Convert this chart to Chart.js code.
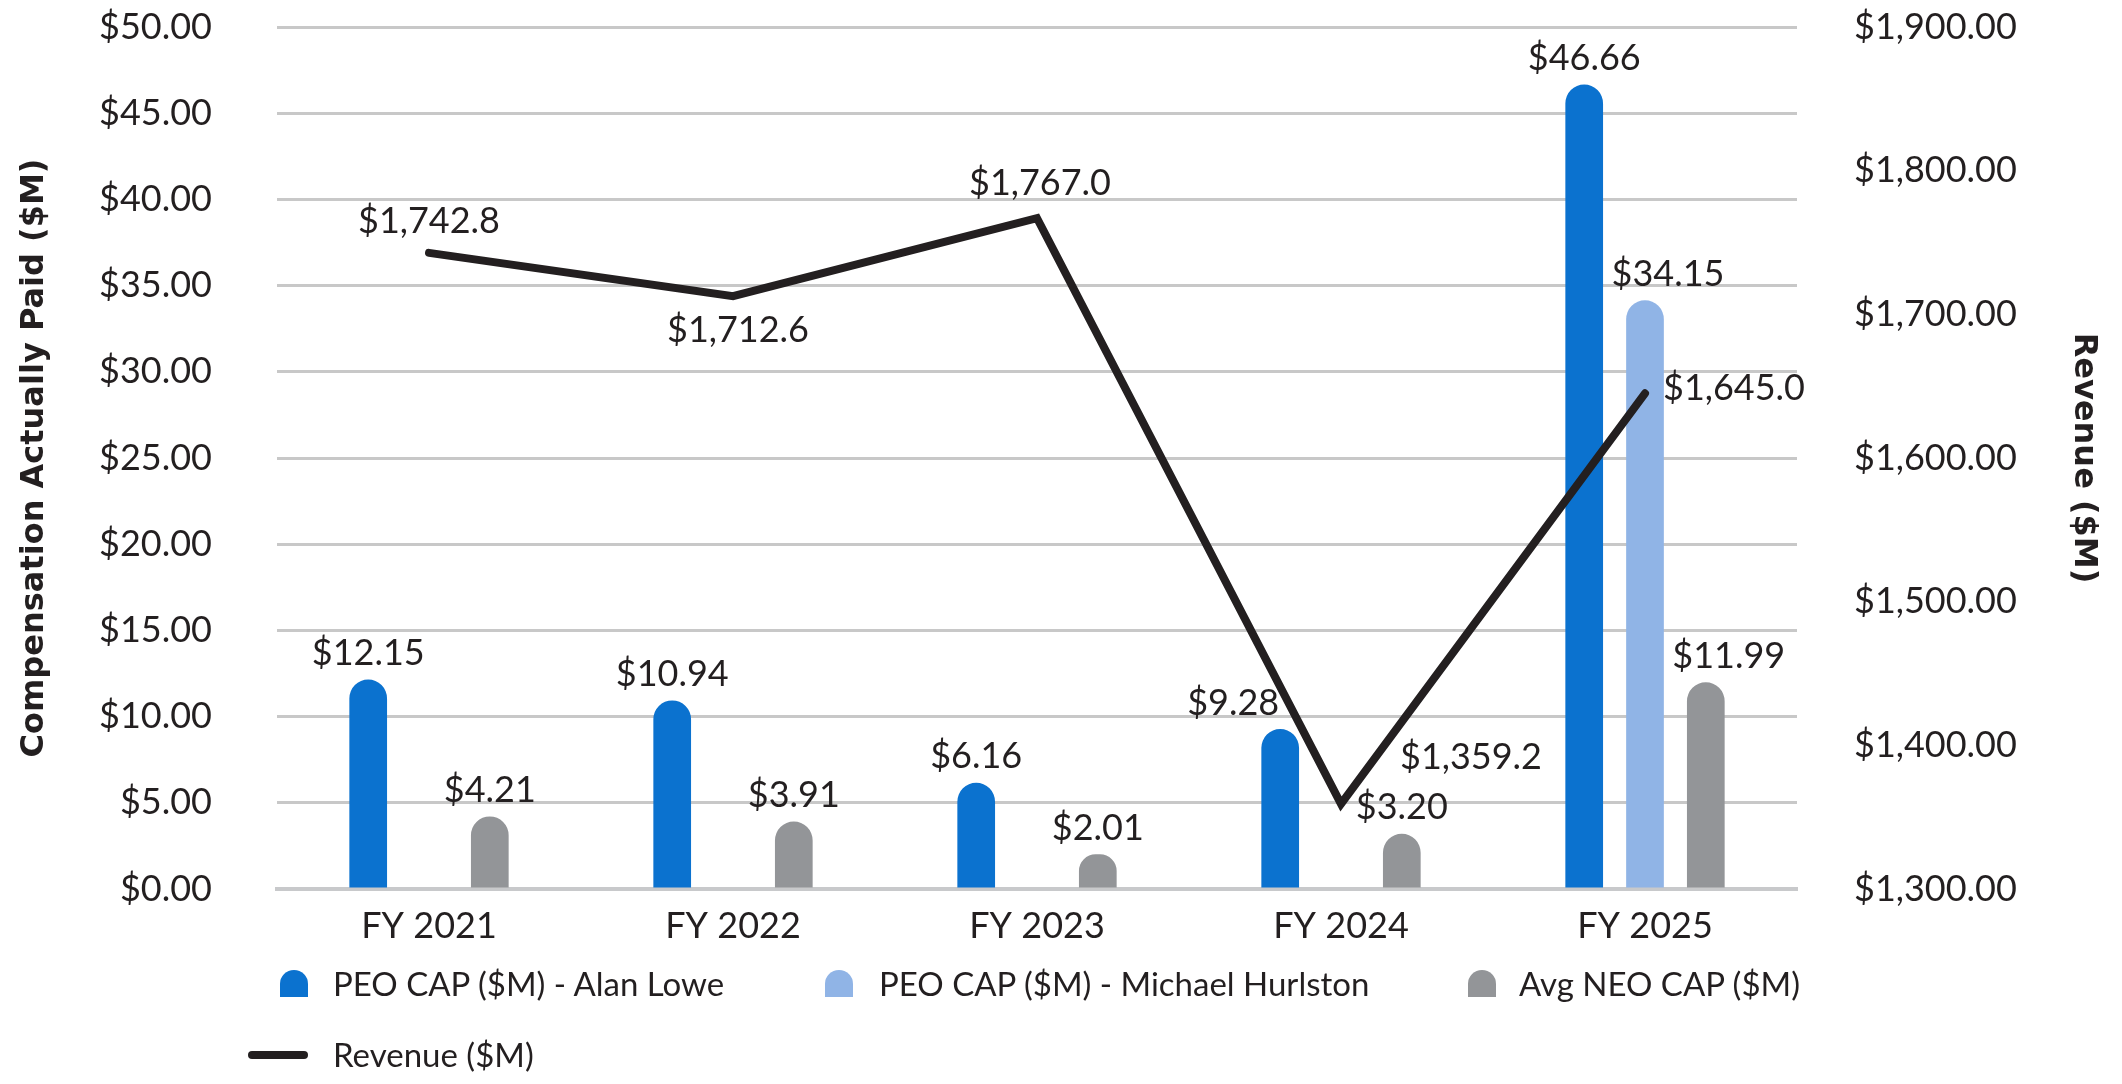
<!DOCTYPE html>
<html>
<head>
<meta charset="utf-8">
<script src="https://cdn.jsdelivr.net/npm/chart.js@4.4.1/dist/chart.umd.min.js"></script>
<style>
  html, body { margin: 0; padding: 0; background: #ffffff; }
  #wrap { position: relative; width: 2122px; height: 1084px; overflow: hidden; }
  #chart { position: absolute; left: 0; top: 0; }
  .lg-item { position: absolute; font-family: Lato, sans-serif; font-size: 33px; color: #231f20; white-space: nowrap; line-height: 1; }
  .lg-mark { position: absolute; }
</style>
</head>
<body>
<div id="wrap">
  <canvas id="chart" width="2122" height="1084"></canvas>
  <div id="legend"></div>
</div>
<script>
// ---------- data ----------
const categories = ['FY 2021', 'FY 2022', 'FY 2023', 'FY 2024', 'FY 2025'];
const peoAlanLowe = [12.15, 10.94, 6.16, 9.28, 46.66];
const peoMichaelHurlston = [null, null, null, null, 34.15];
const avgNeoCap = [4.21, 3.91, 2.01, 3.20, 11.99];
const revenue = [1742.8, 1712.6, 1767.0, 1359.2, 1645.0];
const seriesNames = ['PEO CAP ($M) - Alan Lowe', 'PEO CAP ($M) - Michael Hurlston', 'Avg NEO CAP ($M)', 'Revenue ($M)'];
const leftAxisTitle = 'Compensation Actually Paid ($M)';
const rightAxisTitle = 'Revenue ($M)';

// ---------- styles ----------
const COLORS = { alan: '#0b72cf', michael: '#90b4e6', neo: '#939598', revenue: '#231f20', text: '#231f20', grid: '#c8c8c8', axis: '#c8c9cb' };
const TICK_FONT = 36;
const LABEL_FONT = 36;
const CLEAR = 'rgba(0,0,0,0)';
// label nudges (px) per series index: [dx, dy]
const barLabelNudge = { 0: { 3: [-47, 0] }, 1: { 4: [23, 0] }, 2: { 4: [23, 0] } };
const lineLabelOffset = [[0, -31], [5, 34], [3, -35], [130, -47], [89, -5]];

const money2 = v => '$' + v.toLocaleString('en-US', { minimumFractionDigits: 2, maximumFractionDigits: 2 });
const money1 = v => '$' + v.toLocaleString('en-US', { minimumFractionDigits: 1, maximumFractionDigits: 1 });

const valueLabels = {
  id: 'valueLabels',
  afterDatasetsDraw(chart) {
    const ctx = chart.ctx;
    ctx.save();
    ctx.font = LABEL_FONT + 'px Lato';
    ctx.fillStyle = COLORS.text;
    ctx.textAlign = 'center';
    ctx.textBaseline = 'middle';
    chart.data.datasets.forEach((ds, di) => {
      const meta = chart.getDatasetMeta(di);
      meta.data.forEach((el, i) => {
        const v = ds.data[i];
        if (v === null || v === undefined) return;
        if (ds.type === 'line') {
          const o = lineLabelOffset[i];
          ctx.fillText(money1(v), el.x + o[0], el.y + o[1]);
        } else {
          const n = (barLabelNudge[di] && barLabelNudge[di][i]) || [0, 0];
          ctx.fillText(money2(v), el.x + n[0], el.y - 26 + n[1]);
        }
      });
    });
    ctx.restore();
  }
};

const barRadius = { topLeft: 19, topRight: 19, bottomLeft: 0, bottomRight: 0 };

function build() {
  Chart.defaults.font.family = 'Lato';
  Chart.defaults.color = COLORS.text;
  const chart = new Chart(document.getElementById('chart'), {
    data: {
      labels: categories,
      datasets: [
        { type: 'bar', label: seriesNames[0], data: peoAlanLowe, backgroundColor: COLORS.alan, borderRadius: barRadius, borderSkipped: false, yAxisID: 'y', order: 1 },
        { type: 'bar', label: seriesNames[1], data: peoMichaelHurlston, backgroundColor: COLORS.michael, borderRadius: barRadius, borderSkipped: false, yAxisID: 'y', order: 1 },
        { type: 'bar', label: seriesNames[2], data: avgNeoCap, backgroundColor: COLORS.neo, borderRadius: barRadius, borderSkipped: false, yAxisID: 'y', order: 1 },
        { type: 'line', label: seriesNames[3], data: revenue, borderColor: COLORS.revenue, backgroundColor: COLORS.revenue, borderWidth: 8, pointRadius: 0, borderCapStyle: 'round', borderJoinStyle: 'miter', tension: 0, yAxisID: 'y1', order: 0 }
      ]
    },
    options: {
      responsive: false,
      animation: false,
      devicePixelRatio: 1,
      layout: { padding: { top: 27, bottom: 125, left: 0, right: 0 } },
      datasets: { bar: { categoryPercentage: 0.6, barPercentage: 0.62 } },
      plugins: { legend: { display: false }, tooltip: { enabled: false } },
      scales: {
        x: {
          grid: { display: false, drawTicks: false },
          border: { display: true, color: COLORS.axis, width: 4 },
          ticks: { font: { size: TICK_FONT }, padding: 16, color: COLORS.text },
          afterFit: s => { s.height = 70; }
        },
        y: {
          position: 'left', min: 0, max: 50,
          grid: { color: COLORS.grid, lineWidth: 3, drawTicks: true, tickLength: 65, tickColor: CLEAR },
          border: { display: false },
          ticks: { stepSize: 5, font: { size: TICK_FONT }, padding: 0, color: COLORS.text, callback: v => money2(v) },
          title: { display: true, text: leftAxisTitle, font: { family: 'DejaVu Sans', size: 32, weight: 'bold' }, padding: { top: 15, bottom: 0 }, color: COLORS.text },
          afterFit: s => { s.width = 277; }
        },
        y1: {
          position: 'right', min: 1300, max: 1900,
          grid: { display: true, drawOnChartArea: false, color: CLEAR, drawTicks: true, tickLength: 57, tickColor: CLEAR },
          border: { display: false },
          ticks: { stepSize: 100, font: { size: TICK_FONT }, padding: 0, color: COLORS.text, callback: v => money2(v) },
          title: { display: true, text: rightAxisTitle, font: { family: 'DejaVu Sans', size: 32, weight: 'bold' }, padding: { top: 19, bottom: 0 }, color: COLORS.text },
          afterFit: s => { s.width = 325; }
        }
      }
    },
    plugins: [valueLabels]
  });

  // legend (HTML), built from the datasets
  const legendLayout = [
    { mark: [280, 970, 28, 27], text: [333, 984], kind: 'bar' },
    { mark: [825, 970, 28, 27], text: [879, 984], kind: 'bar' },
    { mark: [1468, 970, 28, 27], text: [1519, 984], kind: 'bar' },
    { mark: [248, 1051, 60, 8], text: [333, 1055], kind: 'line' }
  ];
  const lg = document.getElementById('legend');
  chart.data.datasets.forEach((ds, i) => {
    const L = legendLayout[i];
    const m = document.createElement('div');
    m.className = 'lg-mark';
    m.style.left = L.mark[0] + 'px'; m.style.top = L.mark[1] + 'px';
    m.style.width = L.mark[2] + 'px'; m.style.height = L.mark[3] + 'px';
    m.style.background = L.kind === 'line' ? ds.borderColor : ds.backgroundColor;
    m.style.borderRadius = L.kind === 'line' ? '4px' : '14px 14px 0 0';
    lg.appendChild(m);
    const t = document.createElement('div');
    t.className = 'lg-item';
    t.textContent = ds.label;
    t.style.left = L.text[0] + 'px';
    t.style.top = (L.text[1] - 17) + 'px';
    lg.appendChild(t);
  });
}

Promise.all([
  document.fonts.load('36px Lato'),
  document.fonts.load('bold 32px "DejaVu Sans"')
]).catch(() => {}).then(build);
</script>
</body>
</html>
